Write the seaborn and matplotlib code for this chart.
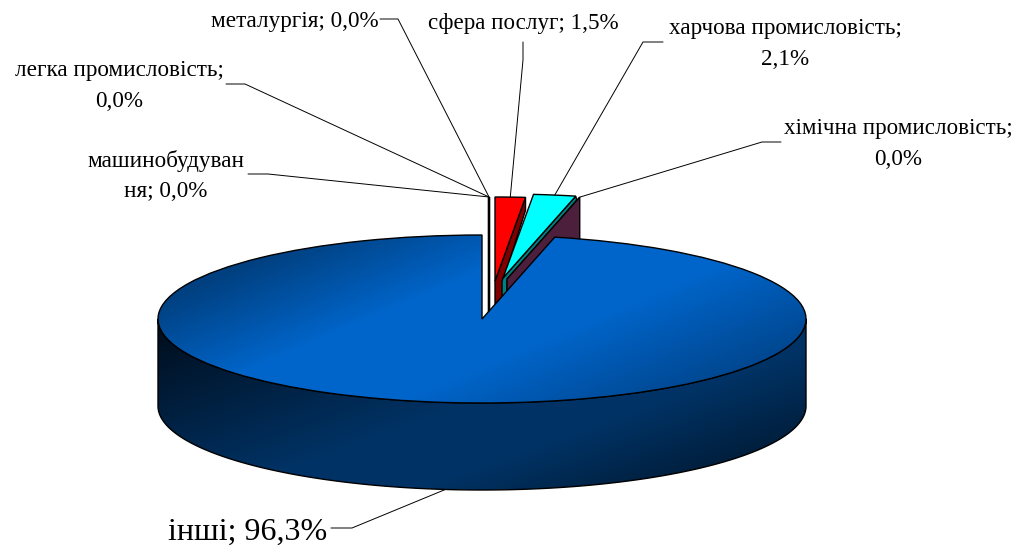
import numpy as np
import matplotlib
matplotlib.use('Agg')
import matplotlib.pyplot as plt
from matplotlib.patches import Polygon
import seaborn as sns

names = ['машинобудування', 'легка промисловість', 'металургія', 'сфера послуг',
         'харчова промисловість', 'хімічна промисловість', 'інші']
values = [0.0, 0.0, 0.0, 1.5, 2.1, 0.0, 96.3]
labels = ['машинобудуван\nня; 0,0%', 'легка промисловість;\n0,0%', 'металургія; 0,0%',
          'сфера послуг; 1,5%', 'харчова промисловість;\n2,1%',
          'хімічна промисловість;\n0,0%', 'інші; 96,3%']
colors = ['white', 'white', 'white', '#ff0000', '#00ffff', '#4c1f3c', '#0066cc']

# layout, in pixels of the picture
W, H = 1021, 549
CX, CY, RX, RY = 482, 319, 324, 84
DEPTH = 87
shift_px = [(7, 38), (7, 38), (7, 38), (13, 38), (21, 41), (25, 40), (0, 0)]
label_px = [(166, 176), (119, 86), (295, 22), (523, 24), (785, 44), (898, 144), (248, 532)]
label_size = [16.7, 16.7, 16.7, 16.6, 16.7, 16.6, 23.0]
elbow_px = [[(248, 174), (268, 174)], [(226, 84), (245, 84)], [(380, 19), (398, 19)],
            [(523, 42), (523, 60)], [(663, 42), (643, 42)], [(781, 142), (762, 142)],
            [(331, 528), (352, 528)]]


def dx(p):
    return p / RX


def dy(p):
    return p / RY


def to_data(p):
    return (p[0] - CX) / RX, (CY - p[1]) / RY


sns.set_theme(style='white')
plt.rcParams['font.family'] = ['Liberation Serif', 'DejaVu Serif']

fig = plt.figure(figsize=(W / 100, H / 100), dpi=100)
ax = fig.add_axes([0, 0, 1, 1])
wedges, _ = ax.pie(values, colors=colors, startangle=90, counterclock=False,
                   wedgeprops=dict(edgecolor='black', linewidth=1.0))

lim_x = to_data((0, 0))[0], to_data((W, 0))[0]
lim_y = to_data((0, H))[1], to_data((0, 0))[1]

# move the small slices out of the pie
for w, s in zip(wedges, shift_px):
    w.set_center((dx(s[0]), dy(s[1])))


def outer(w, which):
    ang = np.deg2rad(w.theta1 if which == 0 else w.theta2)
    return w.center[0] + np.cos(ang), w.center[1] + np.sin(ang)


red, cyan, chem, blue = wedges[3], wedges[4], wedges[5], wedges[6]
LINE = dict(edgecolor='black', linewidth=1.0)

# zero slices: seen edge on
for w in wedges[:3]:
    w.set_zorder(3)
    ax.plot([w.center[0]] * 2, [w.center[1] + 1, w.center[1] - dy(DEPTH)],
            color='black', lw=1.6, zorder=2, solid_capstyle='butt')

# red slice wall
ox, oy = outer(red, 0)
ax_, ay_ = red.center
ax.add_patch(Polygon([(ax_, ay_), (ox, oy), (ox, oy - dy(13)), (ax_ + dx(8), ay_),
                      (ax_ + dx(8), ay_ - dy(60)), (ax_, ay_ - dy(60))],
                     facecolor='#800000', zorder=2, **LINE))
red.set_zorder(3)

# purple wall of the zero slice, sits under cyan
cx_, cy_ = chem.center
ox, oy = outer(chem, 0)
ax.add_patch(Polygon([(cx_, cy_), (ox, oy), (ox, oy - dy(DEPTH)), (cx_, cy_ - dy(DEPTH))],
                     facecolor=colors[5], zorder=5, **LINE))
chem.set_zorder(5)

# teal wall of cyan slice
ox, oy = outer(cyan, 0)
bx, by = cyan.center
ax.add_patch(Polygon([(bx, by), (ox, oy), (ox + dx(1), oy - dy(4)), (bx + dx(4), by - dy(3)),
                      (bx + dx(4), by - dy(40)), (bx - dx(1), by - dy(40)), (bx - dx(1), by - dy(3))],
                     facecolor='#008080', zorder=4, **LINE))
cyan.set_zorder(6)

# shading runs along a slanted line across the picture
px, py = np.meshgrid(np.arange(W), np.arange(H))
full = (lim_x[0], lim_x[1], lim_y[0], lim_y[1])

# outer wall of the big slice
th = np.deg2rad(np.linspace(90, 270, 300))
wall_x = np.sin(th)
wall_top = np.cos(th)
wall_bot = wall_top - dy(DEPTH)
wall = ax.fill_between(wall_x, wall_top, wall_bot, facecolor='none', edgecolor='black',
                       linewidth=1.0, zorder=8)
cm_side = sns.blend_palette(['#000f1f', '#003366', '#001a33'], as_cmap=True)
side = np.interp(0.34 * px + 0.94 * py, [366, 540, 600, 700], [0, 0.5, 0.5, 1])
im = ax.imshow(side, cmap=cm_side, vmin=0, vmax=1, aspect='auto', zorder=7,
               extent=full, origin='upper', interpolation='bilinear')
im.set_clip_path(wall.get_paths()[0], transform=ax.transData)

# top of the big slice
cm_top = sns.blend_palette(['#004080', '#0066cc', '#00448a'], as_cmap=True)
top = np.interp(0.39 * px + 0.92 * py, [338, 440, 520, 640], [0, 0.5, 0.5, 1])
im2 = ax.imshow(top, cmap=cm_top, vmin=0, vmax=1, aspect='auto', zorder=9,
                extent=full, origin='upper', interpolation='bilinear')
im2.set_clip_path(blue)
blue.set_facecolor('none')
blue.set_zorder(10)

# labels and leader lines
ends = []
for w in wedges:
    mid = np.deg2rad((w.theta1 + w.theta2) / 2)
    ends.append((w.center[0] + np.cos(mid), w.center[1] + np.sin(mid)))
ends[6] = (ends[6][0], ends[6][1] - dy(DEPTH))

for lab, pos, size, elbow, end in zip(labels, label_px, label_size, elbow_px, ends):
    x, y = to_data(pos)
    ax.text(x, y, lab, fontsize=size, color='black', ha='center', va='center',
            linespacing=1.6, zorder=12)
    pts = [to_data(p) for p in elbow] + [end]
    ax.plot([p[0] for p in pts], [p[1] for p in pts], color='black', lw=0.7, zorder=11)

ax.set_aspect('auto')
ax.set_xlim(lim_x)
ax.set_ylim(lim_y)
ax.set_axis_off()
fig.savefig('out.png', dpi=100, facecolor='white')
